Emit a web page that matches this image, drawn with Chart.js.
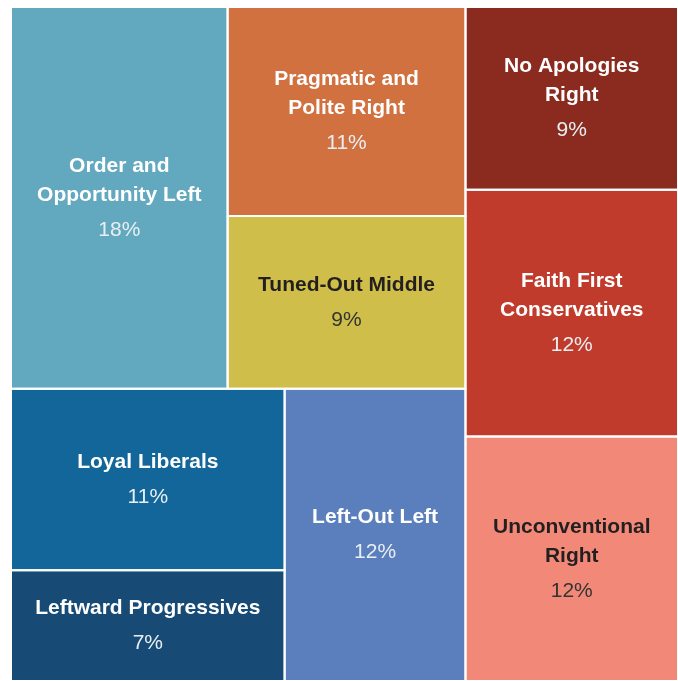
<!DOCTYPE html>
<html>
<head>
<meta charset="utf-8">
<script src="https://cdn.jsdelivr.net/npm/chart.js@4/dist/chart.umd.min.js"></script>
<style>
  html, body { margin: 0; padding: 0; background: #ffffff; }
  #wrap { width: 678px; height: 681px; }
</style>
</head>
<body>
<div id="wrap"><canvas id="c" width="678" height="681"></canvas></div>
<script>
// ---- data ----
const categories = [
  ['Order and', 'Opportunity Left'],
  ['Pragmatic and', 'Polite Right'],
  ['Tuned-Out Middle'],
  ['No Apologies', 'Right'],
  ['Faith First', 'Conservatives'],
  ['Unconventional', 'Right'],
  ['Loyal Liberals'],
  ['Leftward Progressives'],
  ['Left-Out Left']
];
// share of population (%); labels are rounded
const shares = [18.3, 11.0, 9.1, 8.6, 11.6, 11.5, 11.0, 6.7, 11.7];
// nesting of the treemap: 'h' = side by side, 'v' = stacked (indices into categories)
const hierarchy = ['h',
  ['v', ['h', 0, ['v', 1, 2]], ['h', ['v', 6, 7], 8]],
  ['v', 3, 4, 5]
];

// ---- styles ----
const fillColors = ['#62a9bf', '#d17140', '#cfbf4a', '#8b2b20', '#c03b2b', '#f28978', '#136699', '#174b75', '#5b7ebd'];
const darkText = [false, false, true, false, false, true, false, false, false];

// ---- layout (in data units of the x/y scales, 0..1) ----
function sumOf(node) {
  if (typeof node === 'number') return shares[node];
  return node.slice(1).reduce((a, k) => a + sumOf(k), 0);
}
function layoutNode(node, x0, y0, x1, y1, out) {
  if (typeof node === 'number') { out[node] = { x0, y0, x1, y1 }; return; }
  const dir = node[0];
  const kids = node.slice(1);
  const total = sumOf(node);
  let pos = dir === 'h' ? x0 : y0;
  kids.forEach(k => {
    const span = (dir === 'h' ? (x1 - x0) : (y1 - y0)) * sumOf(k) / total;
    if (dir === 'h') layoutNode(k, pos, y0, pos + span, y1, out);
    else layoutNode(k, x0, pos, x1, pos + span, out);
    pos += span;
  });
}
const cells = [];
layoutNode(hierarchy, 0, 0, 1, 1, cells);

const datasets = cells.map((r, i) => ({
  label: categories[i].join(' '),
  data: [
    { x: r.x0, y: r.y0 }, { x: r.x1, y: r.y0 }, { x: r.x1, y: r.y1 },
    { x: r.x0, y: r.y1 }, { x: r.x0, y: r.y0 }
  ],
  showLine: true,
  fill: 'shape',
  backgroundColor: fillColors[i],
  borderColor: '#ffffff',
  borderWidth: 2,
  pointRadius: 0,
  pointHoverRadius: 0,
  tension: 0
}));

const labelPlugin = {
  id: 'cellLabels',
  afterDatasetsDraw(chart) {
    const { ctx } = chart;
    const xs = chart.scales.x, ys = chart.scales.y;
    ctx.save();
    ctx.textAlign = 'center';
    ctx.textBaseline = 'middle';
    cells.forEach((r, i) => {
      const cx = (xs.getPixelForValue(r.x0) + xs.getPixelForValue(r.x1)) / 2;
      const cy = (ys.getPixelForValue(r.y0) + ys.getPixelForValue(r.y1)) / 2;
      const lines = categories[i];
      const lh = 29, gap = 35;
      const span = (lines.length - 1) * lh + gap;
      let y = cy - span / 2;
      ctx.fillStyle = darkText[i] ? '#231f20' : '#ffffff';
      ctx.font = 'bold 21px "Liberation Sans", Arial, sans-serif';
      lines.forEach((t, j) => ctx.fillText(t, cx, y + j * lh));
      ctx.fillStyle = darkText[i] ? '#333333' : '#e8eff3';
      ctx.font = '21px "Liberation Sans", Arial, sans-serif';
      ctx.fillText(Math.round(shares[i]) + '%', cx, y + (lines.length - 1) * lh + gap);
    });
    ctx.restore();
  }
};

new Chart(document.getElementById('c'), {
  type: 'scatter',
  data: { datasets },
  options: {
    responsive: false,
    animation: false,
    events: [],
    layout: { padding: { left: 11, top: 7, right: 0, bottom: 0 } },
    scales: {
      x: { type: 'linear', min: 0, max: 1, display: false },
      y: { type: 'linear', min: 0, max: 1, reverse: true, display: false }
    },
    plugins: {
      legend: { display: false },
      tooltip: { enabled: false },
      filler: { drawTime: 'beforeDatasetsDraw', propagate: false }
    }
  },
  plugins: [labelPlugin]
});
</script>
</body>
</html>
